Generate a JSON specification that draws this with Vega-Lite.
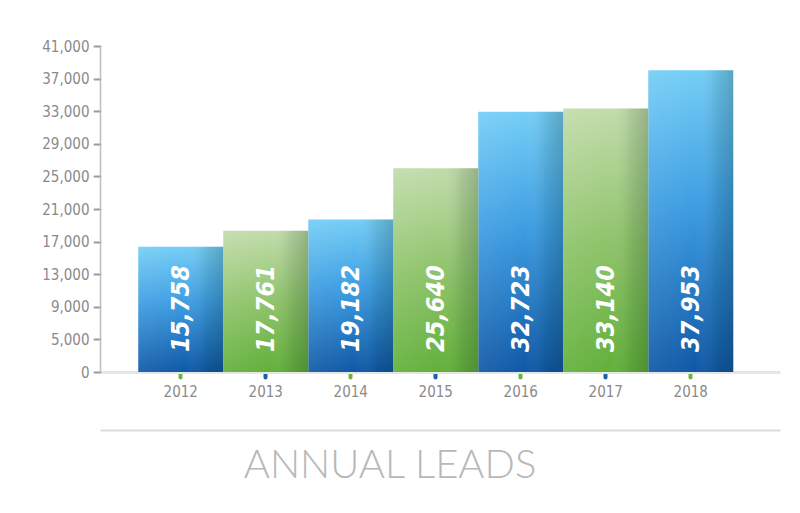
{
  "$schema": "https://vega.github.io/schema/vega-lite/v6.json",
  "width": 680,
  "height": 326,
  "autosize": {"type": "none"},
  "padding": {"left": 100, "top": 46, "right": 20, "bottom": 141},
  "background": "white",
  "title": {
    "text": "ANNUAL LEADS",
    "orient": "bottom",
    "anchor": "middle",
    "dx": -50,
    "offset": 16,
    "font": "Lato",
    "fontWeight": 300,
    "fontSize": 40,
    "color": "#b8b8b8"
  },
  "data": {
    "values": [
      {"year": 2012, "leads": 15758},
      {"year": 2013, "leads": 17761},
      {"year": 2014, "leads": 19182},
      {"year": 2015, "leads": 25640},
      {"year": 2016, "leads": 32723},
      {"year": 2017, "leads": 33140},
      {"year": 2018, "leads": 37953}
    ]
  },
  "encoding": {
    "x": {
      "field": "year",
      "type": "ordinal",
      "scale": {"paddingInner": 0, "paddingOuter": 0.5, "align": 0.45}
    },
    "y": {
      "field": "leads",
      "type": "quantitative",
      "scale": {"domain": [0, 41000], "nice": false}
    }
  },
  "layer": [
    {
      "transform": [{"filter": "datum.year % 2 == 0"}],
      "mark": {
        "type": "bar",
        "color": {
          "gradient": "linear",
          "x1": 0, "y1": 0, "x2": 0, "y2": 1,
          "stops": [
            {"offset": 0, "color": "#74cef6"},
            {"offset": 0.45, "color": "#3d9de2"},
            {"offset": 1, "color": "#0f58a6"}
          ]
        }
      },
      "encoding": {
        "x": {
          "field": "year",
          "type": "ordinal",
          "axis": {
            "title": null,
            "labelAngle": 0,
            "labelFont": "Liberation Sans Narrow, DejaVu Sans Condensed, Roboto",
            "labelFontSize": 15,
            "labelColor": "#8a8a8a",
            "labelPadding": 7,
            "domainColor": "#e6e6e6",
            "domainWidth": 3,
            "tickSize": 5,
            "tickWidth": 4,
            "tickCap": "round",
            "tickColor": {"condition": {"test": "datum.value % 2 == 0", "value": "#6cb33f"}, "value": "#1d5fa5"}
          }
        },
        "y": {
          "field": "leads",
          "type": "quantitative",
          "axis": {
            "title": null,
            "values": [0, 4100, 8200, 12300, 16400, 20500, 24600, 28700, 32800, 36900, 41000],
            "tickCount": 12,
            "labelExpr": "datum.value == 0 ? '0' : format(datum.value / 4100 * 4000 + 1000, ',')",
            "labelOverlap": false,
            "labelFont": "Liberation Sans Narrow, DejaVu Sans Condensed, Roboto",
            "labelFontSize": 15,
            "labelColor": "#8a8a8a",
            "labelPadding": 5,
            "domainColor": "#bdbdbd",
            "domainWidth": 1.5,
            "tickColor": "#9a9a9a",
            "tickSize": 6,
            "tickWidth": 2,
            "tickCap": "round",
            "grid": false
          }
        }
      }
    },
    {
      "transform": [{"filter": "datum.year % 2 == 1"}],
      "mark": {
        "type": "bar",
        "color": {
          "gradient": "linear",
          "x1": 0, "y1": 0, "x2": 0, "y2": 1,
          "stops": [
            {"offset": 0, "color": "#c2dcab"},
            {"offset": 0.5, "color": "#8fc46b"},
            {"offset": 1, "color": "#62b03a"}
          ]
        }
      },
      "encoding": {
        "x": {"field": "year", "type": "ordinal", "axis": null}
      }
    },
    {
      "mark": {
        "type": "bar",
        "color": {
          "gradient": "linear",
          "x1": 0, "y1": 0, "x2": 1, "y2": 0,
          "stops": [
            {"offset": 0, "color": "rgba(255,255,255,0.08)"},
            {"offset": 0.55, "color": "rgba(255,255,255,0.0)"},
            {"offset": 0.8, "color": "rgba(0,30,20,0.10)"},
            {"offset": 1, "color": "rgba(0,30,20,0.22)"}
          ]
        }
      },
      "encoding": {
        "x": {
          "field": "year",
          "type": "ordinal",
          "axis": {
            "orient": "bottom",
            "offset": 58,
            "labels": false,
            "ticks": false,
            "title": null,
            "domainColor": "#dcdcdc",
            "domainWidth": 2
          }
        }
      }
    },
    {
      "mark": {
        "type": "text",
        "angle": 270,
        "align": "left",
        "baseline": "middle",
        "dx": 20,
        "font": "Liberation Sans Narrow, DejaVu Sans Condensed, Roboto",
        "fontWeight": "bold",
        "fontStyle": "italic",
        "fontSize": 25,
        "color": "white"
      },
      "encoding": {
        "x": {"field": "year", "type": "ordinal", "axis": null},
        "y": {"datum": 0},
        "text": {"field": "leads", "type": "quantitative", "format": ","}
      }
    }
  ],
  "resolve": {"axis": {"x": "independent"}},
  "config": {"view": {"stroke": null}}
}
